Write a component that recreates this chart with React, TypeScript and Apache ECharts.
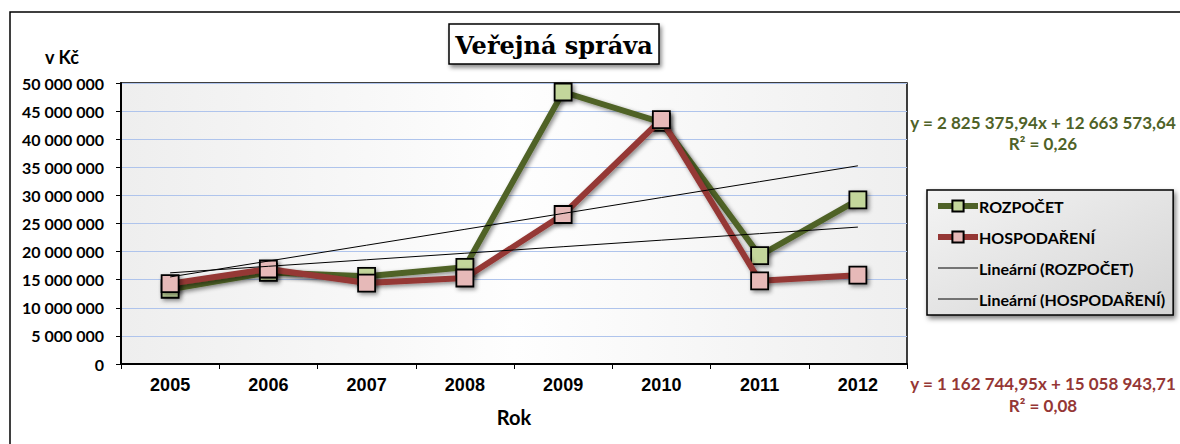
import React, { useEffect, useRef } from "react";
import * as echarts from "echarts";

const years = ["2005", "2006", "2007", "2008", "2009", "2010", "2011", "2012"];
const rozpocet = [13300000, 16300000, 15600000, 17200000, 48400000, 43000000, 19300000, 29200000];
const hospodareni = [14300000, 16900000, 14400000, 15300000, 26600000, 43500000, 14800000, 15800000];
const trendRozpocet = { slope: 2825375.94, intercept: 12663573.64, r2: "0,26" };
const trendHospodareni = { slope: 1162744.95, intercept: 15058943.71, r2: "0,08" };
const seriesNames = ["ROZPOČET", "HOSPODAŘENÍ", "Lineární (ROZPOČET)", "Lineární (HOSPODAŘENÍ)"];

const fmtNum = (v: number, dec = 0) => {
  const fixed = v.toFixed(dec);
  const [i, d] = fixed.split(".");
  const grouped = i.replace(/\B(?=(\d{3})+(?!\d))/g, " ");
  return d ? grouped + "," + d : grouped;
};

const trendValues = (t: { slope: number; intercept: number }) =>
  years.map((_, i) => t.slope * (i + 1) + t.intercept);

const eqText = (t: { slope: number; intercept: number }) =>
  "y = " + fmtNum(t.slope, 2) + "x + " + fmtNum(t.intercept, 2);

const GREEN = "#4f6228";
const RED = "#953735";
const FONT = "Lato, 'Open Sans', sans-serif";

export default function App() {
  const ref = useRef<HTMLDivElement>(null);
  useEffect(() => {
    if (!ref.current) return;
    const chart = echarts.init(ref.current, undefined, { renderer: "svg" });
    const shadow = { shadowColor: "rgba(0,0,0,0.45)", shadowBlur: 4, shadowOffsetX: 2, shadowOffsetY: 2 };
    chart.setOption({
      animation: false,
      backgroundColor: "#ffffff",
      grid: {
        left: 121,
        top: 83,
        right: 273,
        bottom: 80,
        show: true,
        borderColor: "#000",
        borderWidth: 1.5,
        backgroundColor: new echarts.graphic.LinearGradient(0, 0, 1, 0, [
          { offset: 0, color: "#eeeeee" },
          { offset: 0.5, color: "#fefefe" },
          { offset: 1, color: "#efefef" },
        ]),
      },
      legend: {
        orient: "vertical",
        left: 927,
        top: 190,
        width: 245,
        padding: [8, 8, 8, 8],
        itemWidth: 40,
        itemHeight: 14,
        itemGap: 15,
        data: [
          { name: seriesNames[0], lineStyle: { width: 6 } },
          { name: seriesNames[1], lineStyle: { width: 6 } },
          { name: seriesNames[2], lineStyle: { width: 1 }, itemStyle: { opacity: 0 } },
          { name: seriesNames[3], lineStyle: { width: 1 }, itemStyle: { opacity: 0 } },
        ],
        backgroundColor: new echarts.graphic.LinearGradient(0, 0, 1, 1, [
          { offset: 0, color: "#f4f4f4" },
          { offset: 1, color: "#d4d4d4" },
        ]),
        borderColor: "#000",
        borderWidth: 1.5,
        shadowColor: "rgba(0,0,0,0.5)",
        shadowBlur: 5,
        shadowOffsetX: 2,
        shadowOffsetY: 3,
        textStyle: { fontFamily: FONT, fontWeight: "bold", fontSize: 16, color: "#000", padding: [0, 0, 0, -4] },
      },
      xAxis: {
        type: "category",
        data: years,
        boundaryGap: true,
        axisLine: { lineStyle: { color: "#000", width: 2 } },
        axisTick: { show: true, length: 5, lineStyle: { color: "#000" } },
        axisLabel: { fontFamily: "'Liberation Sans', Arial, sans-serif", fontWeight: "bold", fontSize: 18, color: "#000", margin: 12 },
      },
      yAxis: {
        type: "value",
        min: 0,
        max: 50000000,
        interval: 5000000,
        axisLine: { show: true, lineStyle: { color: "#000", width: 2 } },
        axisTick: { show: true, length: 5, lineStyle: { color: "#000" } },
        splitLine: { lineStyle: { color: "#afc4ec", width: 1 } },
        axisLabel: { fontFamily: FONT, fontWeight: "bold", fontSize: 16, color: "#000", margin: 17, formatter: (v: number) => fmtNum(v) },
      },
      series: [
        {
          name: seriesNames[0],
          type: "line",
          data: rozpocet,
          z: 2,
          symbol: "rect",
          symbolSize: 17,
          lineStyle: { color: GREEN, width: 6, ...shadow },
          itemStyle: { color: "#c3d69b", borderColor: "#000", borderWidth: 1.8, ...shadow },
        },
        {
          name: seriesNames[1],
          type: "line",
          data: hospodareni,
          z: 3,
          symbol: "rect",
          symbolSize: 17,
          lineStyle: { color: RED, width: 6, ...shadow },
          itemStyle: { color: "#e6b9b8", borderColor: "#000", borderWidth: 1.8, ...shadow },
        },
        {
          name: seriesNames[2],
          type: "line",
          data: trendValues(trendRozpocet),
          z: 4,
          symbol: "emptyCircle",
          showSymbol: false,
          lineStyle: { color: "#000", width: 1 },
          itemStyle: { color: "#000" },
        },
        {
          name: seriesNames[3],
          type: "line",
          data: trendValues(trendHospodareni),
          z: 4,
          symbol: "emptyCircle",
          showSymbol: false,
          lineStyle: { color: "#000", width: 1 },
          itemStyle: { color: "#000" },
        },
      ],
      graphic: [
        {
          type: "rect",
          shape: { x: 10, y: 12, width: 1200, height: 600 },
          style: { fill: "none", stroke: "#000", lineWidth: 1.5 },
          z: -1,
          silent: true,
        },
        {
          type: "group",
          children: [
            {
              type: "rect",
              shape: { x: 449, y: 24, width: 210, height: 40 },
              style: { fill: "#fff", stroke: "#000", lineWidth: 1.5, shadowColor: "rgba(0,0,0,0.45)", shadowBlur: 4, shadowOffsetX: 2, shadowOffsetY: 3 },
            },
            {
              type: "text",
              x: 554,
              y: 45,
              style: { text: "Veřejná správa", font: "bold 24px 'DejaVu Serif', serif", fill: "#000", align: "center", verticalAlign: "middle" },
            },
          ],
        },
        {
          type: "text",
          x: 62,
          y: 57,
          style: { text: "v Kč", font: "bold 18px " + FONT, fill: "#000", align: "center", verticalAlign: "middle" },
        },
        {
          type: "text",
          x: 514,
          y: 417,
          style: { text: "Rok", font: "bold 20px " + FONT, fill: "#000", align: "center", verticalAlign: "middle" },
        },
        {
          type: "text",
          x: 1043,
          y: 122,
          style: { text: eqText(trendRozpocet), font: "bold 17px " + FONT, fill: GREEN, align: "center", verticalAlign: "middle" },
        },
        {
          type: "text",
          x: 1043,
          y: 143,
          style: { text: "R² = " + trendRozpocet.r2, font: "bold 17px " + FONT, fill: GREEN, align: "center", verticalAlign: "middle" },
        },
        {
          type: "text",
          x: 1043,
          y: 383,
          style: { text: eqText(trendHospodareni), font: "bold 17px " + FONT, fill: RED, align: "center", verticalAlign: "middle" },
        },
        {
          type: "text",
          x: 1043,
          y: 405,
          style: { text: "R² = " + trendHospodareni.r2, font: "bold 17px " + FONT, fill: RED, align: "center", verticalAlign: "middle" },
        },
      ],
    });
    return () => chart.dispose();
  }, []);
  return <div ref={ref} style={{ position: "fixed", left: 0, top: 0, width: 1180, height: 444 }} />;
}
